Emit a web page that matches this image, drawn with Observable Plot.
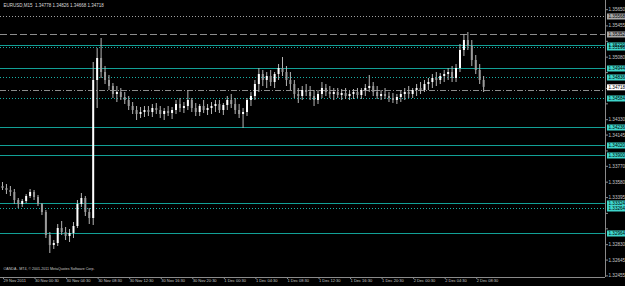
<!DOCTYPE html>
<html><head><meta charset="utf-8">
<script src="https://cdn.jsdelivr.net/npm/d3@7"></script>
<script src="https://cdn.jsdelivr.net/npm/@observablehq/plot@0.6"></script>
<style>
html,body{margin:0;padding:0;background:#000;overflow:hidden;}
svg{display:block;}
</style></head><body><div id="chart"></div>
<script>
const header = "EURUSD,M15  1.34778 1.34826 1.34668 1.34718";
const copyright = "OANDA - MT4, \u00a9 2001-2011 MetaQuotes Software Corp.";
const startTime = "2011-11-29T20:30Z";
const barMinutes = 30;
const lastPrice = 1.34718;

const open = [1.33528,1.33504,1.33480,1.33456,1.33360,1.33312,1.33348,1.33408,1.33456,1.33396,
1.33312,1.33216,1.32940,1.32820,1.32844,1.33024,1.32976,1.32928,1.32964,1.33048,
1.33312,1.33384,1.33216,1.33144,1.34800,1.35064,1.34896,1.34800,1.34728,1.34632,
1.34656,1.34596,1.34560,1.34488,1.34440,1.34392,1.34416,1.34440,1.34416,1.34464,
1.34440,1.34392,1.34428,1.34404,1.34440,1.34512,1.34464,1.34488,1.34560,1.34464,
1.34416,1.34488,1.34440,1.34464,1.34488,1.34512,1.34440,1.34500,1.34560,1.34512,
1.34440,1.34392,1.34416,1.34560,1.34608,1.34752,1.34872,1.34800,1.34848,1.34776,
1.34872,1.34944,1.34896,1.34800,1.34752,1.34632,1.34608,1.34680,1.34656,1.34608,
1.34560,1.34632,1.34704,1.34656,1.34632,1.34656,1.34620,1.34644,1.34608,1.34632,
1.34656,1.34620,1.34680,1.34704,1.34728,1.34656,1.34608,1.34632,1.34608,1.34584,
1.34560,1.34596,1.34632,1.34656,1.34632,1.34680,1.34704,1.34680,1.34752,1.34776,
1.34824,1.34800,1.34848,1.34872,1.34896,1.34824,1.34944,1.35160,1.35280,1.35208,
1.35040,1.34920,1.34800];
const high = [1.33576,1.33552,1.33528,1.33492,1.33384,1.33372,1.33432,1.33492,1.33480,1.33420,
1.33324,1.33240,1.32976,1.32880,1.33072,1.33108,1.33036,1.33012,1.33096,1.33360,
1.33444,1.33408,1.33264,1.35016,1.35184,1.35304,1.34968,1.34860,1.34764,1.34728,
1.34704,1.34656,1.34608,1.34536,1.34488,1.34476,1.34488,1.34488,1.34512,1.34524,
1.34488,1.34464,1.34488,1.34476,1.34560,1.34584,1.34536,1.34680,1.34584,1.34524,
1.34512,1.34560,1.34512,1.34536,1.34560,1.34560,1.34524,1.34608,1.34632,1.34584,
1.34512,1.34464,1.34584,1.34656,1.34800,1.34944,1.34920,1.34896,1.34920,1.34896,
1.34992,1.35076,1.34968,1.34896,1.34800,1.34704,1.34728,1.34752,1.34728,1.34680,
1.34680,1.34776,1.34752,1.34728,1.34704,1.34704,1.34692,1.34704,1.34680,1.34692,
1.34704,1.34704,1.34752,1.34860,1.34776,1.34728,1.34680,1.34704,1.34656,1.34644,
1.34632,1.34680,1.34704,1.34728,1.34704,1.34752,1.34776,1.34800,1.34824,1.34872,
1.34896,1.34884,1.34920,1.34944,1.34968,1.34992,1.35232,1.35352,1.35376,1.35280,
1.35100,1.34992,1.34848];
const low = [1.33480,1.33432,1.33408,1.33312,1.33264,1.33276,1.33324,1.33384,1.33360,1.33288,
1.33180,1.32904,1.32724,1.32772,1.32808,1.32940,1.32880,1.32856,1.32904,1.33024,
1.33276,1.33168,1.33072,1.33060,1.34464,1.34824,1.34752,1.34680,1.34584,1.34536,
1.34560,1.34512,1.34440,1.34392,1.34320,1.34344,1.34356,1.34368,1.34356,1.34392,
1.34344,1.34320,1.34368,1.34332,1.34392,1.34416,1.34404,1.34440,1.34416,1.34368,
1.34368,1.34404,1.34380,1.34392,1.34416,1.34404,1.34380,1.34440,1.34464,1.34392,
1.34344,1.34224,1.34368,1.34488,1.34560,1.34656,1.34728,1.34704,1.34728,1.34704,
1.34800,1.34848,1.34728,1.34680,1.34584,1.34524,1.34560,1.34608,1.34560,1.34488,
1.34512,1.34584,1.34608,1.34584,1.34560,1.34584,1.34560,1.34572,1.34560,1.34572,
1.34584,1.34572,1.34608,1.34656,1.34608,1.34572,1.34560,1.34572,1.34536,1.34524,
1.34512,1.34536,1.34560,1.34584,1.34584,1.34608,1.34632,1.34656,1.34680,1.34704,
1.34728,1.34752,1.34776,1.34800,1.34776,1.34776,1.34896,1.35088,1.35160,1.34968,
1.34872,1.34752,1.34656];
const close = [1.33504,1.33480,1.33456,1.33360,1.33312,1.33348,1.33408,1.33456,1.33396,1.33312,
1.33216,1.32940,1.32820,1.32844,1.33024,1.32976,1.32928,1.32964,1.33048,1.33312,
1.33384,1.33216,1.33144,1.34800,1.35064,1.34896,1.34800,1.34728,1.34632,1.34656,
1.34596,1.34560,1.34488,1.34440,1.34392,1.34416,1.34440,1.34416,1.34464,1.34440,
1.34392,1.34428,1.34404,1.34440,1.34512,1.34464,1.34488,1.34560,1.34464,1.34416,
1.34488,1.34440,1.34464,1.34488,1.34512,1.34440,1.34500,1.34560,1.34512,1.34440,
1.34392,1.34416,1.34560,1.34608,1.34752,1.34872,1.34800,1.34848,1.34776,1.34872,
1.34944,1.34896,1.34800,1.34752,1.34632,1.34608,1.34680,1.34656,1.34608,1.34560,
1.34632,1.34704,1.34656,1.34632,1.34656,1.34620,1.34644,1.34608,1.34632,1.34656,
1.34620,1.34680,1.34704,1.34728,1.34656,1.34608,1.34632,1.34608,1.34584,1.34560,
1.34596,1.34632,1.34656,1.34632,1.34680,1.34704,1.34680,1.34752,1.34776,1.34824,
1.34800,1.34848,1.34872,1.34896,1.34824,1.34944,1.35160,1.35280,1.35208,1.35040,
1.34920,1.34800,1.34718];

const priceTicks = [1.35650,1.35455,1.35270,1.35080,1.34895,1.34705,1.34520,1.34330,1.34145,
1.33955,1.33770,1.33580,1.33395,1.33205,1.33020,1.32830,1.32645,1.32455];
const timeTicks = ["2011-11-29T20:30Z","2011-11-30T00:30Z","2011-11-30T04:30Z","2011-11-30T08:30Z",
"2011-11-30T12:30Z","2011-11-30T16:30Z","2011-11-30T20:30Z","2011-12-01T00:30Z","2011-12-01T04:30Z",
"2011-12-01T08:30Z","2011-12-01T12:30Z","2011-12-01T16:30Z","2011-12-01T20:30Z","2011-12-02T00:30Z",
"2011-12-02T04:30Z","2011-12-02T08:30Z"];
const timeTickLabels = ["29 Nov 2011","30 Nov 00:30","30 Nov 04:30","30 Nov 08:30","30 Nov 12:30",
"30 Nov 16:30","30 Nov 20:30","1 Dec 00:30","1 Dec 04:30","1 Dec 08:30","1 Dec 12:30","1 Dec 16:30",
"1 Dec 20:30","2 Dec 00:30","2 Dec 04:30","2 Dec 08:30"];

// horizontal level lines
const levelPrices = [1.35568,1.35352,1.35220,1.35196,1.34944,1.34836,1.34680,1.34584,1.34236,1.34020,1.33900,1.33324,1.33264,1.32964];
const levelKinds  = ["dotGrey","dashGrey","solid","dot","solid","dot","dashDot","dot","solid","solid","solid","solid","dot","solid"];

const yDomain = [1.32436, 1.3576];

const t0 = new Date(startTime).getTime();
const barMs = barMinutes * 60000;
const barPx = 31.55 / 8;
const plotW = 605, plotH = 277;
const xDomain = [new Date(t0 - (2 / barPx) * barMs), new Date(t0 + ((plotW - 2) / barPx) * barMs)];
const pxPerPrice = plotH / (yDomain[1] - yDomain[0]);

const bars = open.map((o, i) => ({t: new Date(t0 + i * barMs), o, h: high[i], l: low[i], c: close[i]}));
const levels = levelPrices.map((p, i) => ({p, kind: levelKinds[i]}));
const styleOf = {
  dotGrey: {stroke: "#a0a0a0", dash: "1,2"},
  dashGrey: {stroke: "#8c8c8c", dash: "7,3"},
  dashDot: {stroke: "#8c8c8c", dash: "6,2,1,2"},
  solid: {stroke: "#12a096", dash: null},
  dot: {stroke: "#18b0a6", dash: "1,2"}
};
const boxFill = k => (k === "dotGrey" || k === "dashGrey") ? "#a8a8a8" : "#3fd6cc";
const boxed = levels.filter(d => d.kind !== "dashDot");
const boxPrices = boxed.map(d => d.p).concat([lastPrice]);
// tick labels that sit under a coloured price box are hidden by it, as in the terminal
const visibleTicks = priceTicks.filter(t => boxPrices.every(p => Math.abs(p - t) * pxPerPrice > 5.5));
const timeLabel = new Map(timeTicks.map((t, i) => [new Date(t).getTime(), timeTickLabels[i]]));

const lineMarks = Object.keys(styleOf).map(k =>
  Plot.ruleY(levels.filter(d => d.kind === k), {y: "p", stroke: styleOf[k].stroke, strokeDasharray: styleOf[k].dash, strokeWidth: 1})
);

const chart = Plot.plot({
  width: 625, height: 286,
  marginLeft: 0, marginRight: 20, marginTop: 0, marginBottom: 9,
  style: {background: "#000", color: "#c8c8c8", fontFamily: "Liberation Sans, Arial, sans-serif", overflow: "visible"},
  x: {type: "utc", domain: xDomain},
  y: {domain: yDomain},
  marks: [
    ...lineMarks,
    Plot.ruleX(bars, {x: "t", y1: "l", y2: "h", stroke: "#b4b4b4", strokeWidth: 1}),
    Plot.ruleX(bars, {x: "t", y1: "o", y2: "c", stroke: d => d.c >= d.o ? "#ffffff" : "#9a9a9a", strokeWidth: 2}),
    Plot.ruleX([xDomain[1]], {stroke: "#8a8a8a"}),
    Plot.ruleY([yDomain[0]], {stroke: "#8a8a8a"}),
    Plot.axisY(priceTicks, {anchor: "right", tickSize: 2, text: null, stroke: "#8a8a8a"}),
    Plot.axisY(visibleTicks, {anchor: "right", tickSize: 0, tickPadding: 3, tickFormat: d => d.toFixed(5), fontSize: 4.6, label: null, fill: "#c8c8c8"}),
    Plot.axisX(timeTicks.map(t => new Date(t)), {anchor: "bottom", tickSize: 2, tickPadding: 0, tickFormat: d => timeLabel.get(d.getTime()), textAnchor: "start", dx: 1, fontSize: 4, label: null, stroke: "#8a8a8a", fill: "#c8c8c8"}),
    Plot.ruleY(boxed, {y: "p", x1: xDomain[1], x2: xDomain[1], insetLeft: 2, insetRight: -20, stroke: d => boxFill(d.kind), strokeWidth: 6}),
    Plot.text(boxed, {y: "p", x: xDomain[1], text: d => d.p.toFixed(5), textAnchor: "start", dx: 3, fontSize: 4.6, fill: "#000"}),
    Plot.ruleY([lastPrice], {x1: xDomain[1], x2: xDomain[1], insetLeft: 2, insetRight: -20, stroke: "#ffffff", strokeWidth: 6}),
    Plot.text([lastPrice], {y: d => d, x: xDomain[1], text: d => d.toFixed(5), textAnchor: "start", dx: 3, fontSize: 4.6, fill: "#000"}),
    Plot.text([header], {frameAnchor: "top-left", dx: 3, dy: 3, fontSize: 4.5, fill: "#dcdcdc"}),
    Plot.text([copyright], {frameAnchor: "bottom-left", dx: 3, dy: -8, fontSize: 3.6, fill: "#c8c8c8"})
  ]
});
document.getElementById("chart").appendChild(chart);
</script>
</body></html>
